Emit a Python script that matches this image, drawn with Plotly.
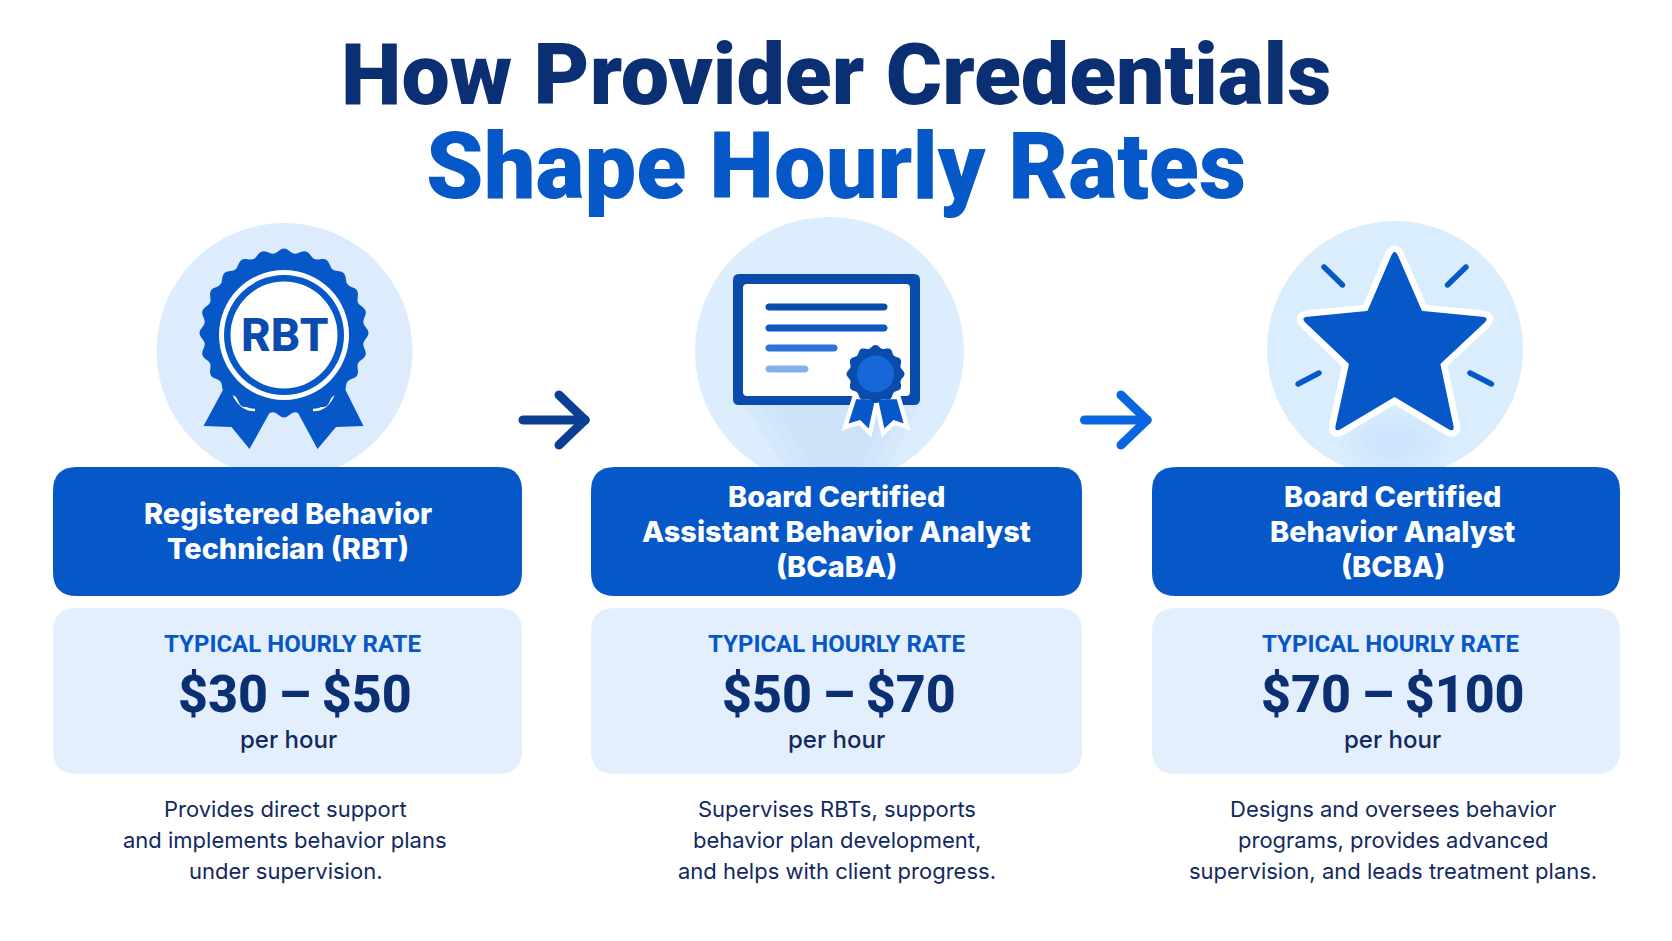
import numpy as np
import plotly.graph_objects as go

# Text content
TITLE_LINES = ["How Provider Credentials", "Shape Hourly Rates"]
CARD_TITLES = [
    ["Registered Behavior", "Technician (RBT)"],
    ["Board Certified", "Assistant Behavior Analyst", "(BCaBA)"],
    ["Board Certified", "Behavior Analyst", "(BCBA)"],
]
RATE_LOW = [30, 50, 70]
RATE_HIGH = [50, 70, 100]
RATE_LABEL = "TYPICAL HOURLY RATE"
RATE_UNIT = "per hour"
DESCRIPTIONS = [
    ["Provides direct support", "and implements behavior plans", "under supervision."],
    ["Supervises RBTs, supports", "behavior plan development,", "and helps with client progress."],
    ["Designs and oversees behavior", "programs, provides advanced", "supervision, and leads treatment plans."],
]

# Layout in page pixels
WIDTH, HEIGHT = 1672, 941
CARD_X = [(53, 522), (591, 1082), (1152, 1620)]
TEXT_CX = [288, 836.5, 1392.5]
RATE_CX = [295, 838.5, 1392.5]
DESC_CX = [285, 837, 1392.5]
FONT = "Roboto"
BODY_FONT = "Inter"

NAVY = "#0B2F73"
BLUE = "#0657C8"
DARK_BLUE = "#0A4BAE"
PALE = "#E3EFFC"
DISC = "#DCECFD"
TEXT_NAVY = "#12295F"

shapes = []
annotations = []


def add_path(path, fill=None, line=None, width=0):
    shapes.append(dict(
        type="path", path=path, xref="x", yref="y",
        fillcolor=fill or "rgba(0,0,0,0)",
        line=dict(color=line or "rgba(0,0,0,0)", width=width),
    ))


def add_circle(cx, cy, r, fill, ry=None):
    ry = ry or r
    shapes.append(dict(
        type="circle", xref="x", yref="y", x0=cx - r, x1=cx + r, y0=cy - ry, y1=cy + ry,
        fillcolor=fill, line=dict(width=0),
    ))


def add_text(text, x, y, size, color, weight=400, family=FONT):
    annotations.append(dict(
        text=text, x=x, y=y, xref="x", yref="y", xanchor="center", yanchor="middle",
        showarrow=False, font=dict(family=family, size=size, color=color, weight=weight),
    ))


def add_block(lines, x, y, pitch, color, weight, family=FONT):
    # Several lines in one text: line spacing follows the base size (1.3em),
    # the glyph size comes from each (text, size, colour) span
    text = "<br>".join(
        f'<span style="font-size:{size}px;fill:{c}">{line}</span>' for line, size, c in lines
    )
    add_text(text, x, y, pitch / 1.3, color, weight, family)


def poly_path(points):
    return "M " + " L ".join(f"{x:.2f},{y:.2f}" for x, y in points) + " Z"


def round_rect(x0, y0, x1, y1, r):
    return (
        f"M {x0 + r},{y0} L {x1 - r},{y0} Q {x1},{y0} {x1},{y0 + r} "
        f"L {x1},{y1 - r} Q {x1},{y1} {x1 - r},{y1} "
        f"L {x0 + r},{y1} Q {x0},{y1} {x0},{y1 - r} "
        f"L {x0},{y0 + r} Q {x0},{y0} {x0 + r},{y0} Z"
    )


def capsule(x0, y0, x1, y1, width):
    # Thick line with round ends, as a filled outline
    angle = np.arctan2(y1 - y0, x1 - x0)
    r = width / 2
    t = np.linspace(np.pi / 2, 3 * np.pi / 2, 10)
    start = [(x0 + r * np.cos(a + angle), y0 + r * np.sin(a + angle)) for a in t]
    end = [(x1 + r * np.cos(a + angle + np.pi), y1 + r * np.sin(a + angle + np.pi)) for a in t]
    return poly_path(start + end)


def rounded_poly(points, radii):
    # Closed polygon with each corner softened by a quadratic curve
    n = len(points)
    parts = []
    for i in range(n):
        p = np.array(points[i], dtype=float)
        prev = np.array(points[i - 1], dtype=float)
        nxt = np.array(points[(i + 1) % n], dtype=float)
        a = p + (prev - p) / np.linalg.norm(prev - p) * radii[i]
        b = p + (nxt - p) / np.linalg.norm(nxt - p) * radii[i]
        parts.append(f"{'M' if i == 0 else 'L'} {a[0]:.2f},{a[1]:.2f} Q {p[0]:.2f},{p[1]:.2f} {b[0]:.2f},{b[1]:.2f}")
    return " ".join(parts) + " Z"


def scallop(cx, cy, radius, depth, lobes, n=360):
    t = np.linspace(0, 2 * np.pi, n, endpoint=False)
    r = radius - depth * (1 - np.cos(lobes * t)) / 2
    return poly_path(list(zip(cx + r * np.sin(t), cy - r * np.cos(t))))


def draw_arrow(x0, tip, head_x, y, half, color):
    add_path(capsule(x0, y, tip, y, 9), fill=color)
    add_path(capsule(head_x, y - half, tip, y, 9), fill=color)
    add_path(capsule(head_x, y + half, tip, y, 9), fill=color)


def draw_rosette():
    cx, cy = 284, 333
    add_circle(284.5, 351, 128, DISC)
    add_path(poly_path([(224, 388), (203.5, 426), (231.5, 427), (249.5, 449), (270, 412)]), fill=BLUE)
    add_path(poly_path([(344.5, 388), (363.5, 426), (336, 427), (317.5, 449), (297.5, 412)]), fill=BLUE)
    add_path("M 233,393 Q 240,410 255,410", line="#FFFFFF", width=2.5)
    add_path("M 334,393 Q 328,410 313,410", line="#FFFFFF", width=2.5)
    add_path(scallop(cx, cy, 84.5, 4.5, 24), fill=BLUE)
    add_circle(cx, cy + 2, 65, "#FFFFFF")
    add_circle(cx, cy + 2, 60, BLUE)
    add_circle(cx, cy + 2, 53.5, "#FFFFFF")
    add_text("RBT", cx, cy + 2, 46, DARK_BLUE, 800)


def draw_certificate():
    add_circle(829.5, 351.5, 134.5, "#DCEDFD")
    for dx in [0, 14, 28]:
        add_path(poly_path([(745 + dx, 405), (784 + dx, 467), (888 - dx, 467), (920 - dx, 405)]),
                 fill="rgba(190,218,250,0.18)")
    add_path(round_rect(733, 274, 920, 405, 6), fill=DARK_BLUE)
    add_path(round_rect(743, 284, 910, 396, 4), fill="#FFFFFF")
    add_path(capsule(769, 307, 884, 307, 7), fill=DARK_BLUE)
    add_path(capsule(769, 328, 884, 328, 7), fill="#0D57C2")
    add_path(capsule(769, 348, 834, 348, 7), fill="#2B74DA")
    add_path(capsule(769, 369, 805, 369, 7), fill="#83B0EC")
    ribbon = [(854.5, 397), (845, 427), (859.5, 422.5), (870, 433), (876.5, 403),
              (883, 433), (894, 422.5), (907, 427), (898.5, 397)]
    add_path(poly_path(ribbon), fill=BLUE, line="#FFFFFF", width=4.5)
    add_path(scallop(875.5, 374, 29, 3, 12), fill=DARK_BLUE)
    add_circle(875.5, 374, 18.5, "#1668D8")


def draw_star():
    add_circle(1395, 349, 128, "#DAEDFD")
    for rx, ry in [(54, 32), (46, 27), (38, 22), (30, 17), (22, 12)]:
        add_circle(1395, 442, rx, "rgba(190,220,250,0.09)", ry=ry)
    for ray in [(1324, 267, 1342.5, 285), (1466, 267, 1447.5, 285),
                (1298, 384, 1319, 373), (1491.5, 384, 1470, 373)]:
        add_path(capsule(*ray, 5.5), fill=BLUE)
    star = [(1394.6, 248), (1422, 311), (1490, 317.5), (1440.4, 364), (1455, 433),
            (1394.6, 397), (1334, 433), (1349, 364), (1300, 317.5), (1367.5, 311)]
    radii = [8, 1, 8, 1, 8, 1, 8, 1, 8, 1]
    add_path(rounded_poly(star, radii), fill="#FFFFFF", line="#FFFFFF", width=13)
    add_path(rounded_poly(star, radii), fill=BLUE)


for i in range(3):
    x0, x1 = CARD_X[i]
    if i == 0:
        draw_rosette()
    elif i == 1:
        draw_certificate()
    else:
        draw_star()

    add_path(round_rect(x0, 467, x1, 596, 24), fill=BLUE)
    add_path(round_rect(x0, 608, x1, 774, 24), fill=PALE)

    lines = CARD_TITLES[i]
    for j, line in enumerate(lines):
        add_text(line, TEXT_CX[i], 531 + (j - (len(lines) - 1) / 2) * 35, 28.9, "#FFFFFF", 800, family=BODY_FONT)
    add_text(RATE_LABEL, RATE_CX[i] - 2.5, 644, 24, BLUE, 700)
    add_text(f"${RATE_LOW[i]}\u2009–\u2009${RATE_HIGH[i]}", RATE_CX[i], 694.5, 52, NAVY, 800)
    add_text(RATE_UNIT, TEXT_CX[i], 739.5, 24, TEXT_NAVY, 500, family=BODY_FONT)
    for j, line in enumerate(DESCRIPTIONS[i]):
        add_text(line, DESC_CX[i], 809 + j * 31, 22, TEXT_NAVY, 400, family=BODY_FONT)

draw_arrow(523, 585, 559, 420, 25, "#0B3F94")
draw_arrow(1084.5, 1147, 1121, 420, 25, "#0A66E0")

add_block([(TITLE_LINES[0], 86, NAVY), (TITLE_LINES[1], 92, BLUE)], 836, 121.5, 94, NAVY, 900)

fig = go.Figure()
fig.update_layout(
    width=WIDTH, height=HEIGHT, autosize=False,
    margin=dict(l=0, r=0, t=0, b=0),
    paper_bgcolor="#FFFFFF", plot_bgcolor="#FFFFFF",
    shapes=shapes, annotations=annotations,
    showlegend=False,
    xaxis=dict(range=[0, WIDTH], visible=False, fixedrange=True),
    yaxis=dict(range=[HEIGHT, 0], visible=False, fixedrange=True),
)
fig.write_html("out.html", config={"displayModeBar": False}, post_script="document.body.style.margin='0';")
